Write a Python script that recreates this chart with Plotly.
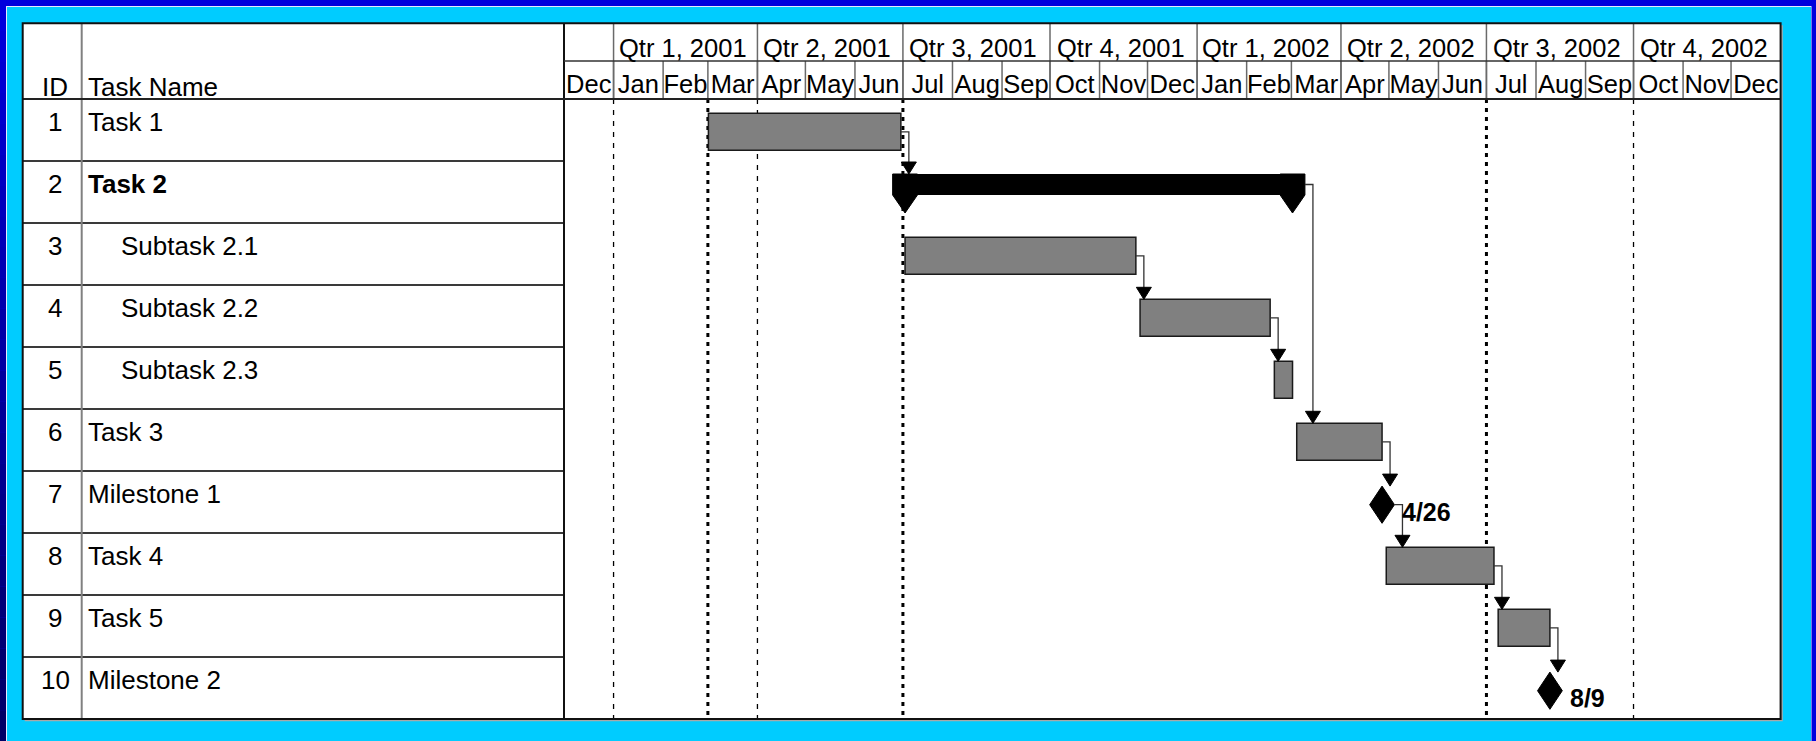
import plotly.graph_objects as go
import pandas as pd

# ---------------- data ----------------
task_ids = [1, 2, 3, 4, 5, 6, 7, 8, 9, 10]
task_names = ["Task 1", "Task 2", "Subtask 2.1", "Subtask 2.2", "Subtask 2.3",
              "Task 3", "Milestone 1", "Task 4", "Task 5", "Milestone 2"]
task_kinds = ["task", "summary", "task", "task", "task",
              "task", "milestone", "task", "task", "milestone"]
task_indent = [0, 0, 1, 1, 1, 0, 0, 0, 0, 0]
task_start = ["2001-03-01 08:00", "2001-07-02 08:00", "2001-07-02 08:00", "2001-11-26 08:00",
              "2002-02-18 08:00", "2002-03-04 08:00", "2002-04-26 17:00", "2002-04-29 08:00",
              "2002-07-08 08:00", "2002-08-09 17:00"]
task_finish = ["2001-06-29 17:00", "2002-03-01 17:00", "2001-11-23 17:00", "2002-02-15 17:00",
               "2002-03-01 17:00", "2002-04-26 17:00", "2002-04-26 17:00", "2002-07-05 17:00",
               "2002-08-09 17:00", "2002-08-09 17:00"]
links = [(1, 2), (3, 4), (4, 5), (2, 6), (6, 7), (7, 8), (8, 9), (9, 10)]

quarter_labels = ["Qtr 1, 2001", "Qtr 2, 2001", "Qtr 3, 2001", "Qtr 4, 2001",
                  "Qtr 1, 2002", "Qtr 2, 2002", "Qtr 3, 2002", "Qtr 4, 2002"]
quarter_bounds = ["2001-01-01", "2001-04-01", "2001-07-01", "2001-10-01", "2002-01-01",
                  "2002-04-01", "2002-07-01", "2002-10-01", "2003-01-01"]
month_labels = ["Dec", "Jan", "Feb", "Mar", "Apr", "May", "Jun", "Jul", "Aug", "Sep", "Oct", "Nov", "Dec",
                "Jan", "Feb", "Mar", "Apr", "May", "Jun", "Jul", "Aug", "Sep", "Oct", "Nov", "Dec"]
month_bounds = ["2000-12-01", "2001-01-01", "2001-02-01", "2001-03-01", "2001-04-01", "2001-05-01",
                "2001-06-01", "2001-07-01", "2001-08-01", "2001-09-01", "2001-10-01", "2001-11-01",
                "2001-12-01", "2002-01-01", "2002-02-01", "2002-03-01", "2002-04-01", "2002-05-01",
                "2002-06-01", "2002-07-01", "2002-08-01", "2002-09-01", "2002-10-01", "2002-11-01",
                "2002-12-01", "2003-01-01"]
thin_line_dates = ["2001-01-01", "2001-04-01", "2002-10-01"]
thick_line_dates = ["2001-03-01", "2001-07-01", "2002-07-01"]
time_range = ["2000-12-01", "2003-01-01"]

# ---------------- layout constants (pixels) ----------------
W, H = 1816, 741
TBL_L, TBL_T, TBL_R, TBL_B = 22.7, 23.3, 1780.6, 719.0
ID_X, GANTT_X = 81.7, 564.0
HDR_MID, HDR_B, ROW_H = 61.0, 99.0, 62.0
N = len(task_ids)

BAR_TOP, BAR_BOT = 14.3, 51.3
SUM_TOP, SUM_BOT, SUM_TIP, CAP_HW = 13.0, 34.0, 52.0, 12.4
MS_C, MS_HH, MS_HW = 33.7, 18.6, 12.4
CONN_DX, ARW_HW, ARW_H = 8.0, 7.5, 12.0

FONT = "Liberation Sans, Arial, sans-serif"
FS = 26
FS_HDR = 25.5
BLUE = "#0000DD"
CYAN = "#00CCFF"


def px(x):
    return x / W


def py(y):
    return 1 - y / H


def ry(row, off):          # row 1-based, off in px from the row top
    return row - 1 + off / ROW_H


def hy(ypix):              # absolute pixel y -> y axis units
    return (ypix - HDR_B) / ROW_H


center_off = {"task": (BAR_TOP + BAR_BOT) / 2, "summary": (SUM_TOP + SUM_BOT) / 2, "milestone": MS_C}
top_off = {"task": BAR_TOP, "summary": SUM_TOP, "milestone": MS_C - MS_HH}
right_off = {"task": 0.0, "summary": CAP_HW, "milestone": MS_HW}

fig = go.Figure()
shapes = []
annotations = []

# ---------------- frame & table background ----------------
shapes.append(dict(type="rect", xref="paper", yref="paper", x0=0, x1=1, y0=0, y1=1,
                   fillcolor=BLUE, line=dict(width=0), layer="below"))
nseg = 24
for k in range(nseg):
    t = k / (nseg - 1)
    b = int(221 - t * 120)
    shapes.append(dict(type="rect", xref="paper", yref="paper", x0=0, x1=px(6),
                       y0=py(H * (k + 1) / nseg), y1=py(H * k / nseg),
                       fillcolor=f"rgb(0,0,{b})", line=dict(width=0), layer="below"))
shapes.append(dict(type="rect", xref="paper", yref="paper", x0=px(6), x1=px(1811.5), y0=0, y1=py(6),
                   fillcolor="#E8E8FF", line=dict(width=0), layer="below"))
shapes.append(dict(type="rect", xref="paper", yref="paper", x0=px(7), x1=px(1811), y0=0, y1=py(7),
                   fillcolor=CYAN, line=dict(width=0), layer="below"))
# shadow
shapes.append(dict(type="rect", xref="paper", yref="paper", x0=px(TBL_L + 2), x1=px(TBL_R + 2.2),
                   y0=py(TBL_B + 2.2), y1=py(TBL_T + 2),
                   fillcolor="#A8A8A8", line=dict(width=0), layer="below"))
shapes.append(dict(type="rect", xref="paper", yref="paper", x0=px(TBL_L), x1=px(TBL_R),
                   y0=py(TBL_B), y1=py(TBL_T),
                   fillcolor="white", line=dict(width=0), layer="below"))

# ---------------- table lines ----------------
for k in range(1, N):
    yy = HDR_B + k * ROW_H
    shapes.append(dict(type="line", xref="paper", yref="paper", x0=px(TBL_L), x1=px(GANTT_X),
                       y0=py(yy), y1=py(yy), line=dict(color="#3a3a3a", width=2), layer="above"))
shapes.append(dict(type="line", xref="paper", yref="paper", x0=px(ID_X), x1=px(ID_X),
                   y0=py(TBL_T), y1=py(TBL_B), line=dict(color="#808080", width=2), layer="above"))
shapes.append(dict(type="line", xref="paper", yref="paper", x0=px(GANTT_X), x1=px(GANTT_X),
                   y0=py(TBL_T), y1=py(TBL_B), line=dict(color="#111111", width=2), layer="above"))
shapes.append(dict(type="line", xref="paper", yref="paper", x0=px(GANTT_X), x1=px(TBL_R),
                   y0=py(HDR_MID), y1=py(HDR_MID), line=dict(color="#333333", width=1.6), layer="above"))
shapes.append(dict(type="line", xref="paper", yref="paper", x0=px(TBL_L), x1=px(TBL_R),
                   y0=py(HDR_B), y1=py(HDR_B), line=dict(color="#222222", width=2), layer="above"))
shapes.append(dict(type="rect", xref="paper", yref="paper", x0=px(TBL_L), x1=px(TBL_R),
                   y0=py(TBL_B), y1=py(TBL_T), line=dict(color="#111111", width=2), layer="above"))

# ---------------- header timescale lines ----------------
for d in quarter_bounds[:-1]:
    shapes.append(dict(type="line", xref="x", yref="y", x0=d, x1=d, y0=hy(TBL_T), y1=hy(HDR_B),
                       line=dict(color="#6a6a6a", width=1.5), layer="below"))
for d in month_bounds[1:-1]:
    shapes.append(dict(type="line", xref="x", yref="y", x0=d, x1=d, y0=hy(HDR_MID), y1=hy(HDR_B),
                       line=dict(color="#6a6a6a", width=1.5), layer="below"))

# ---------------- body vertical marker lines ----------------
for d in thin_line_dates:
    shapes.append(dict(type="line", xref="x", yref="y", x0=d, x1=d, y0=0, y1=N,
                       line=dict(color="black", width=1.3, dash="5px,6px"), layer="below"))
for d in thick_line_dates:
    shapes.append(dict(type="line", xref="x", yref="y", x0=d, x1=d, y0=0, y1=N,
                       line=dict(color="black", width=3, dash="4px,5px"), layer="below"))

# ---------------- header labels ----------------
qs = pd.to_datetime(quarter_bounds)
q_mid = [(qs[i] + (qs[i + 1] - qs[i]) / 2).strftime("%Y-%m-%d %H:%M") for i in range(len(quarter_labels))]
ms = pd.to_datetime(month_bounds)
m_mid = [(ms[i] + (ms[i + 1] - ms[i]) / 2).strftime("%Y-%m-%d %H:%M") for i in range(len(month_labels))]

for lbl, xm in zip(quarter_labels, q_mid):
    annotations.append(dict(text=lbl, xref="x", yref="y", x=xm, y=hy(48.3), xshift=-3,
                            showarrow=False, xanchor="center", yanchor="middle",
                            font=dict(family=FONT, size=FS_HDR, color="black")))
fig.add_trace(go.Scatter(x=m_mid, y=[hy(86.2)] * len(m_mid), mode="text", text=month_labels,
                         textposition="middle center", textfont=dict(family=FONT, size=FS_HDR, color="black"),
                         cliponaxis=True, hoverinfo="skip", showlegend=False))

annotations.append(dict(text="ID", xref="paper", yref="y", x=px(55), y=hy(87.5), showarrow=False,
                        xanchor="center", yanchor="middle", font=dict(family=FONT, size=FS, color="black")))
annotations.append(dict(text="Task Name", xref="paper", yref="y", x=px(86), y=hy(87.5), showarrow=False,
                        xanchor="left", yanchor="middle", font=dict(family=FONT, size=FS, color="black")))

# ---------------- table rows ----------------
for i in range(N):
    row = i + 1
    annotations.append(dict(text=str(task_ids[i]), xref="paper", yref="y", x=px(55), y=ry(row, 22.8),
                            showarrow=False, xanchor="center", yanchor="middle",
                            font=dict(family=FONT, size=FS, color="black")))
    name = task_names[i]
    if task_kinds[i] == "summary":
        name = f"<b>{name}</b>"
    annotations.append(dict(text=name, xref="paper", yref="y", x=px(86 + 33.4 * task_indent[i]),
                            y=ry(row, 22.8), showarrow=False, xanchor="left", yanchor="middle",
                            font=dict(family=FONT, size=FS, color="black")))

# ---------------- bars ----------------
starts = pd.to_datetime(task_start)
finishes = pd.to_datetime(task_finish)

t_idx = [i for i in range(N) if task_kinds[i] == "task"]
fig.add_trace(go.Bar(
    orientation="h",
    base=[task_start[i] for i in t_idx],
    x=[(finishes[i] - starts[i]).total_seconds() * 1000 for i in t_idx],
    y=[ry(i + 1, center_off["task"]) for i in t_idx],
    width=(BAR_BOT - BAR_TOP) / ROW_H,
    marker=dict(color="#808080", line=dict(color="#1a1a1a", width=1.5)),
    hoverinfo="skip", showlegend=False))

s_idx = [i for i in range(N) if task_kinds[i] == "summary"]
fig.add_trace(go.Bar(
    orientation="h",
    base=[task_start[i] for i in s_idx],
    x=[(finishes[i] - starts[i]).total_seconds() * 1000 for i in s_idx],
    y=[ry(i + 1, center_off["summary"]) for i in s_idx],
    width=(SUM_BOT - SUM_TOP) / ROW_H,
    marker=dict(color="black", line=dict(width=0)),
    hoverinfo="skip", showlegend=False))

# summary end caps
for i in s_idx:
    row = i + 1
    yt, yb, ytip = ry(row, SUM_TOP), ry(row, SUM_BOT), ry(row, SUM_TIP)
    for anchor in (task_start[i], task_finish[i]):
        path = (f"M{-CAP_HW},{yt} L{CAP_HW},{yt} L{CAP_HW},{yb} L0,{ytip} L{-CAP_HW},{yb} Z")
        shapes.append(dict(type="path", xref="x", yref="y", xsizemode="pixel", xanchor=anchor,
                           path=path, fillcolor="black", line=dict(color="black", width=1), layer="above"))

# milestones
for i in range(N):
    if task_kinds[i] != "milestone":
        continue
    row = i + 1
    yc = ry(row, MS_C)
    hh = MS_HH / ROW_H
    path = f"M{-MS_HW},{yc} L0,{yc - hh} L{MS_HW},{yc} L0,{yc + hh} Z"
    shapes.append(dict(type="path", xref="x", yref="y", xsizemode="pixel", xanchor=task_finish[i],
                       path=path, fillcolor="black", line=dict(color="black", width=1), layer="above"))
    annotations.append(dict(text=f"<b>{finishes[i].month}/{finishes[i].day}</b>", xref="x", yref="y",
                            x=task_finish[i], y=ry(row, 41), xshift=MS_HW + 6, showarrow=False,
                            xanchor="left", yanchor="middle",
                            font=dict(family=FONT, size=25, color="black")))

# dependency connectors
for p, s in links:
    pi, si = p - 1, s - 1
    kp, ks = task_kinds[pi], task_kinds[si]
    x1 = right_off[kp]
    xv = x1 + CONN_DX
    y1 = ry(p, center_off[kp])
    ytip = ry(s, top_off[ks])
    ybase = ytip - ARW_H / ROW_H
    shapes.append(dict(type="path", xref="x", yref="y", xsizemode="pixel", xanchor=task_finish[pi],
                       path=f"M{x1},{y1} H{xv} V{ybase + 0.02}",
                       line=dict(color="#333333", width=1.3), layer="above"))
    shapes.append(dict(type="path", xref="x", yref="y", xsizemode="pixel", xanchor=task_finish[pi],
                       path=f"M{xv - ARW_HW},{ybase} L{xv + ARW_HW},{ybase} L{xv},{ytip} Z",
                       fillcolor="black", line=dict(color="black", width=1), layer="above"))

fig.update_layout(
    width=W, height=H,
    margin=dict(l=0, r=0, t=0, b=0, pad=0),
    paper_bgcolor=CYAN,
    plot_bgcolor="rgba(0,0,0,0)",
    barmode="overlay",
    showlegend=False,
    xaxis=dict(type="date", range=time_range, domain=[px(GANTT_X), px(TBL_R)],
               visible=False, showgrid=False, zeroline=False, fixedrange=True),
    yaxis=dict(type="linear", range=[N, hy(TBL_T)], domain=[1 - TBL_B / H, 1 - TBL_T / H],
               visible=False, showgrid=False, zeroline=False, fixedrange=True),
    shapes=shapes,
    annotations=annotations,
)

fig.write_html("out.html")
